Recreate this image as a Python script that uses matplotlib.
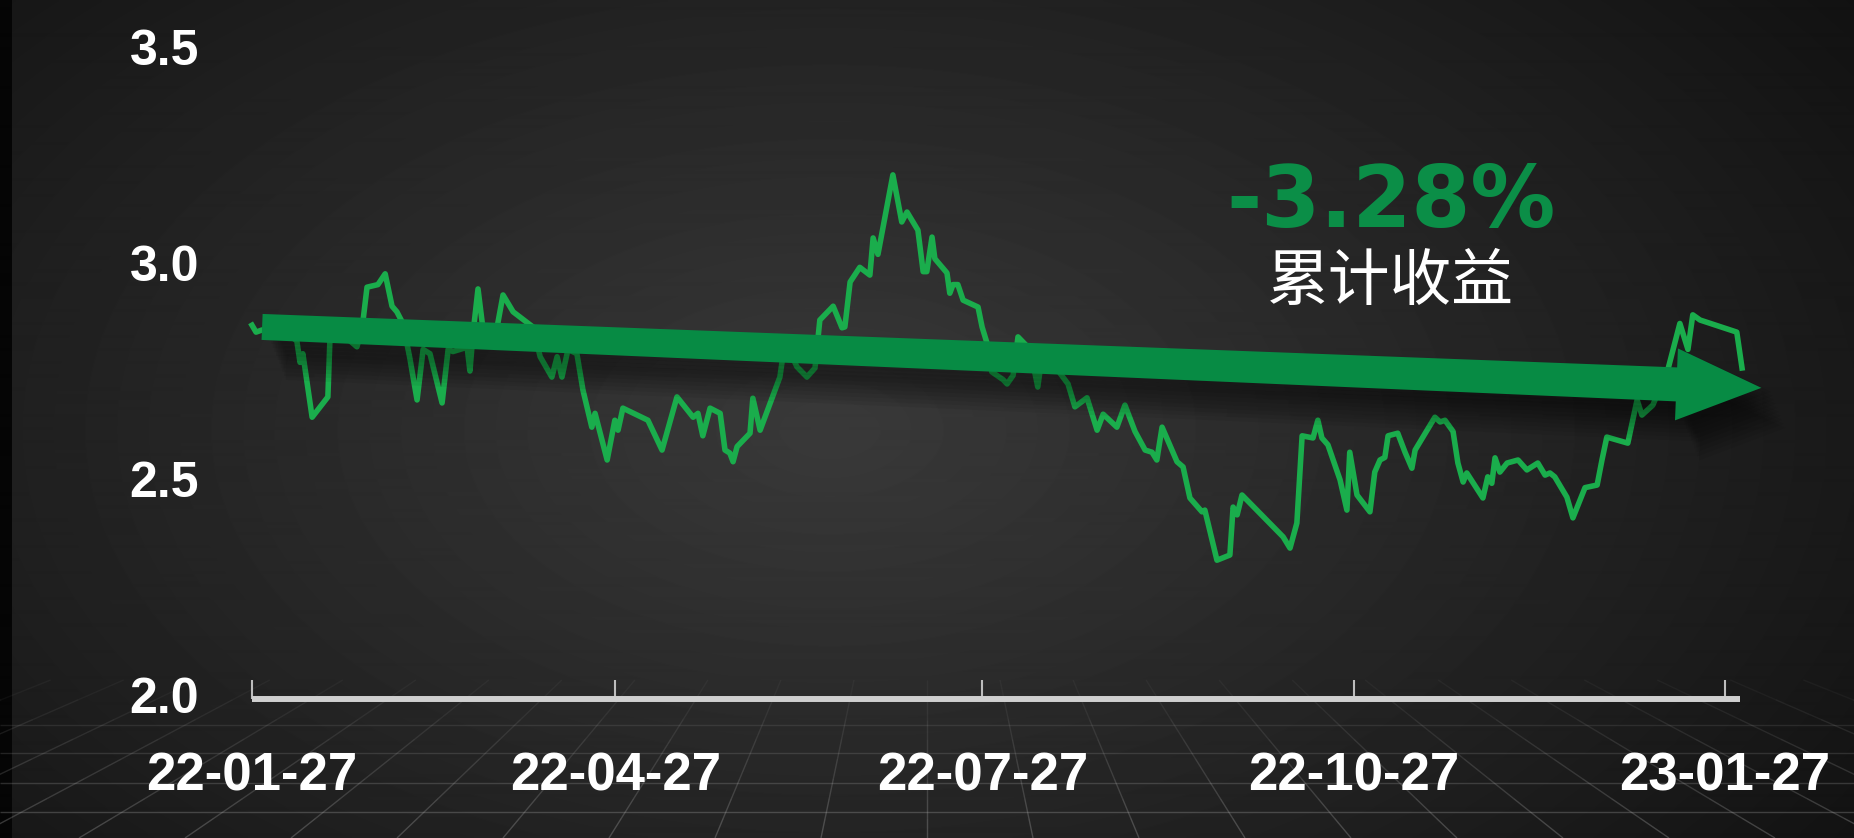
import numpy as np
import pandas as pd
import matplotlib
matplotlib.use("Agg")
import matplotlib.pyplot as plt
import matplotlib.dates as mdates
from matplotlib.patches import Polygon
from matplotlib.collections import LineCollection
from matplotlib.transforms import IdentityTransform

plt.rcParams['font.family'] = ['Liberation Sans', 'DejaVu Sans']

W, H = 1854, 838

# 净值曲线: 从起始日起的天数 / 净值
start_date = "2022-01-27"
day_offset = [0, 1.0, 2.5, 8.2, 11.1, 11.9, 12.6, 14.9, 18.8, 19.3, 23.0, 26.0, 27.3, 28.5, 31.2,
              33.0, 34.7, 35.9, 37.4, 39.1, 40.9, 42.4, 44.1, 47.1, 48.6, 49.8, 53.3, 54.0, 54.8,
              56.0, 57.2, 60.7, 62.2, 64.7, 69.6, 71.4, 74.3, 75.6, 76.8, 78.3, 80.5, 82.0, 84.2,
              85.0, 88.0, 89.9, 90.7, 91.9, 98.1, 101.6, 105.3, 109.3, 110.5, 111.7, 113.5, 116.0,
              117.2, 118.4, 119.2, 120.2, 123.4, 124.1, 125.9, 130.8, 132.1, 135.0, 137.5, 139.5,
              140.7, 144.0, 146.2, 146.9, 148.2, 150.6, 153.1, 153.9, 155.1, 158.8, 161.0, 162.3,
              165.0, 166.3, 167.2, 168.5, 169.2, 172.2, 172.9, 173.7, 174.9, 176.2, 179.9, 180.9,
              182.4, 183.3, 186.1, 187.1, 188.6, 189.8, 192.8, 194.7, 196.0, 197.7, 200.2, 202.2,
              203.9, 206.9, 209.4, 210.9, 214.3, 216.3, 218.8, 221.3, 223.0, 224.2, 225.5, 229.2,
              230.7, 232.4, 235.4, 236.1, 239.1, 242.3, 243.1, 244.1, 245.3, 255.5, 257.2, 258.9,
              260.2, 262.9, 264.1, 265.1, 266.6, 269.6, 271.3, 272.0, 273.8, 277.0, 278.2, 279.5,
              280.7, 281.5, 283.9, 285.7, 287.4, 288.2, 293.1, 294.4, 295.6, 297.6, 298.8, 300.1,
              301.0, 305.0, 306.2, 307.2, 308.0, 309.2, 311.0, 313.7, 315.9, 318.6, 320.4, 321.6,
              322.8, 325.8, 327.3, 330.3, 333.3, 334.5, 335.7, 340.9, 343.2, 344.4, 347.1, 348.4,
              350.6, 353.8, 355.8, 357.0, 358.8, 367.9, 369.2]
nav = [2.856, 2.84, 2.845, 2.84, 2.82, 2.77, 2.79, 2.643, 2.69, 2.82, 2.83, 2.806, 2.85, 2.944, 2.95,
       2.975, 2.90, 2.887, 2.86, 2.78, 2.683, 2.80, 2.79, 2.676, 2.80, 2.795, 2.805, 2.75, 2.84,
       2.94, 2.85, 2.85, 2.926, 2.887, 2.852, 2.783, 2.736, 2.783, 2.736, 2.80, 2.79, 2.706, 2.62,
       2.652, 2.544, 2.636, 2.613, 2.664, 2.636, 2.567, 2.69, 2.643, 2.652, 2.60, 2.664, 2.652,
       2.567, 2.56, 2.54, 2.575, 2.606, 2.687, 2.613, 2.736, 2.82, 2.76, 2.736, 2.757,
       2.868, 2.90, 2.85, 2.852, 2.956, 2.99, 2.972, 3.058, 3.02, 3.204, 3.095, 3.118,
       3.076, 2.98, 2.98, 3.06, 3.01, 2.977, 2.93, 2.95, 2.95, 2.914, 2.898, 2.852,
       2.806, 2.748, 2.73, 2.72, 2.74, 2.829, 2.80, 2.713, 2.80, 2.795, 2.745, 2.72,
       2.667, 2.688, 2.613, 2.65, 2.62, 2.671, 2.61, 2.567, 2.562, 2.544, 2.62, 2.54,
       2.528, 2.456, 2.424, 2.428, 2.312, 2.324, 2.435, 2.417, 2.463, 2.366, 2.34, 2.398,
       2.60, 2.595, 2.636, 2.595, 2.579, 2.498, 2.428, 2.562, 2.463, 2.424, 2.516, 2.544,
       2.55, 2.60, 2.606, 2.562, 2.525, 2.567, 2.643, 2.632, 2.636, 2.61, 2.537, 2.493,
       2.514, 2.456, 2.505, 2.49, 2.549, 2.516, 2.537, 2.544, 2.521, 2.537, 2.509, 2.514,
       2.505, 2.458, 2.41, 2.48, 2.486, 2.544, 2.597, 2.583, 2.683, 2.648, 2.671, 2.70,
       2.745, 2.86, 2.80, 2.88, 2.868, 2.84, 2.757]

tick_dates = ["2022-01-27", "2022-04-27", "2022-07-27", "2022-10-27", "2023-01-27"]
tick_labels = ["22-01-27", "22-04-27", "22-07-27", "22-10-27", "23-01-27"]
y_ticks = [2.0, 2.5, 3.0, 3.5]
y_labels = ["2.0", "2.5", "3.0", "3.5"]

# 趋势箭头 (起点/终点)
arrow_days = [2.5, 374.0]
arrow_values = [2.852, 2.711]

total_return = "-3.28%"
return_label = "累计收益"

x0 = pd.Timestamp(start_date)
dates = x0 + pd.to_timedelta(day_offset, unit="D")

fig = plt.figure(figsize=(W / 100, H / 100), dpi=100)

# 背景: 径向渐变 + 透视地面网格
bg = fig.add_axes([0, 0, 1, 1])
bg.set_xlim(0, W)
bg.set_ylim(H, 0)
bg.axis("off")
yy, xx = np.mgrid[0:H, 0:W]
r = np.sqrt(((xx - 830) / 1050.0) ** 2 + ((yy - 430) / 620.0) ** 2)
shade = 0.225 - 0.13 * np.clip(r, 0, 1.3)
shade[:, :12] = 0.02
bg.imshow(shade, cmap="gray", vmin=0, vmax=1, extent=(0, W, H, 0), aspect="auto",
          interpolation="bilinear")

vx, vy = 927, 330
segs, alphas = [], []
for k in range(-12, 13):
    xb = vx + k * 106
    ys = np.linspace(680, H, 9)
    xs = vx + (xb - vx) * (ys - vy) / (H - vy)
    for i in range(len(ys) - 1):
        segs.append([(xs[i], ys[i]), (xs[i + 1], ys[i + 1])])
        alphas.append(0.05 + 0.25 * (ys[i] - 680) / (H - 680))
for yh in [725, 753, 783, 812]:
    segs.append([(0, yh), (W, yh)])
    alphas.append(0.05 + 0.25 * (yh - 680) / (H - 680))
cols = [(0.75, 0.75, 0.75, a) for a in alphas]
bg.add_collection(LineCollection(segs, colors=cols, linewidths=1.0))

# 主图
ax = fig.add_axes([252 / W, (H - 695) / H, 1488 / W, (695 - 47) / H])
ax.patch.set_alpha(0)
ax.plot(dates, nav, color="#1aad4c", lw=4.0, solid_joinstyle="round", clip_on=False, zorder=2)
ax.set_xlim(x0, x0 + pd.Timedelta(days=368.7))
ax.set_ylim(2.0, 3.5)

for s in ["top", "right", "left"]:
    ax.spines[s].set_visible(False)
ax.spines["bottom"].set_color("#cfcfcf")
ax.spines["bottom"].set_linewidth(4.3)
ax.spines["bottom"].set_position(("outward", 3))
ax.spines["bottom"].set_capstyle("butt")

ax.set_xticks(pd.to_datetime(tick_dates))
ax.set_xticklabels(tick_labels, fontweight="bold")
ax.set_yticks(y_ticks)
ax.set_yticklabels(y_labels, fontweight="bold")
ax.tick_params(axis="x", direction="in", length=14, width=1.5, color="#bdbdbd", pad=38,
               labelsize=38, labelcolor="white")
ax.tick_params(axis="y", length=0, pad=38, labelsize=36, labelcolor="white")

# 趋势箭头 (像素坐标中构造)
p0 = ax.transData.transform((mdates.date2num(x0 + pd.Timedelta(days=arrow_days[0])), arrow_values[0]))
p1 = ax.transData.transform((mdates.date2num(x0 + pd.Timedelta(days=arrow_days[1])), arrow_values[1]))
u = (p1 - p0) / np.hypot(*(p1 - p0))
n = np.array([-u[1], u[0]])
back = p1 - u * 85
pts = np.array([p0 + n * 13, back + n * 17, back + n * 36, p1,
                back - n * 36, back - n * 17, p0 - n * 13])
for dy in range(4, 44, 4):
    sh = pts + np.array([dy * 0.4 + 8, -dy])
    ax.add_patch(Polygon(sh, closed=True, transform=IdentityTransform(), facecolor="black",
                         edgecolor="none", alpha=0.06, clip_on=False, zorder=3))
ax.add_patch(Polygon(pts, closed=True, transform=IdentityTransform(), facecolor="#078b44",
                     edgecolor="none", clip_on=False, zorder=4))

fig.text(1391 / W, (H - 227) / H, total_return, color="#0b8e47", fontsize=61, fontweight="bold",
         family="DejaVu Sans", ha="center", va="baseline")
fig.text(1390 / W, (H - 300) / H, return_label, color="white", fontsize=44.5,
         family=["Noto Sans CJK SC", "DejaVu Sans"], ha="center", va="baseline")

fig.savefig("out.png", dpi=100)
